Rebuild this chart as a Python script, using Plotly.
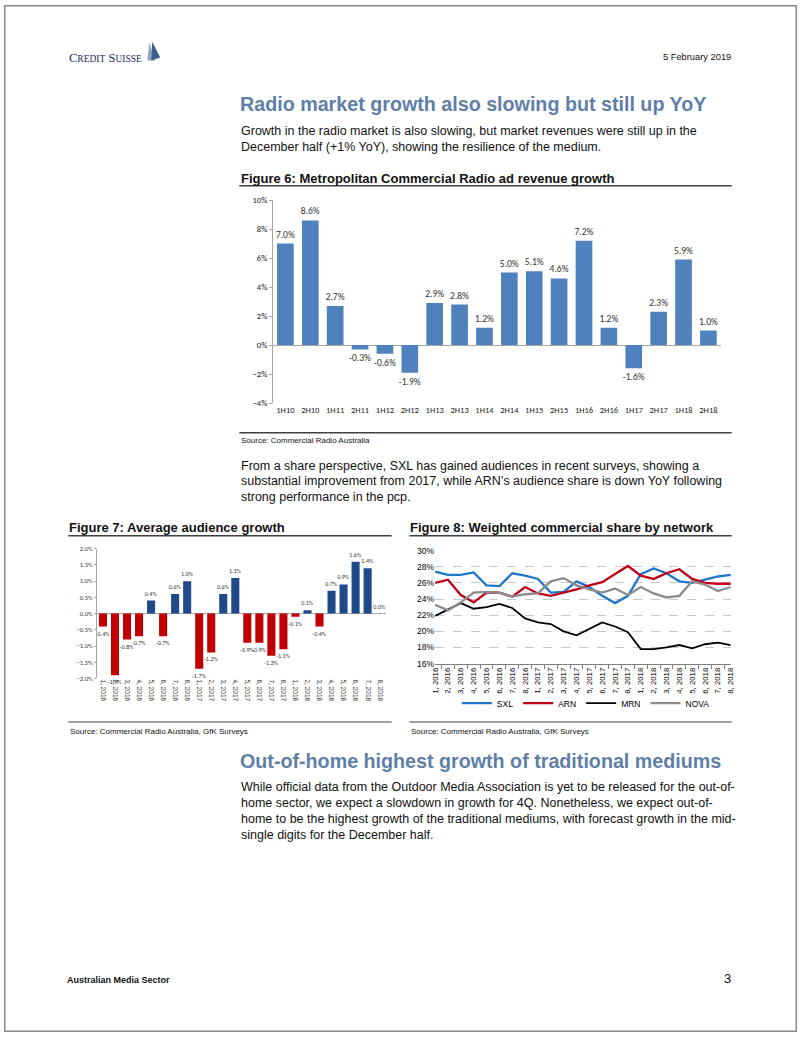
import plotly.graph_objects as go

W, H = 802, 1037
def px(x): return x / W
def py(y): return 1 - y / H

# ---------------- DATA ----------------
halves = ["1H10", "2H10", "1H11", "2H11", "1H12", "2H12", "1H13", "2H13", "1H14",
          "2H14", "1H15", "2H15", "1H16", "2H16", "1H17", "2H17", "1H18", "2H18"]
radio_growth = [7.0, 8.6, 2.7, -0.3, -0.6, -1.9, 2.9, 2.8, 1.2,
                5.0, 5.1, 4.6, 7.2, 1.2, -1.6, 2.3, 5.9, 1.0]

surveys = ["1, 2016", "2, 2016", "3, 2016", "4, 2016", "5, 2016", "6, 2016", "7, 2016", "8, 2016",
           "1, 2017", "2, 2017", "3, 2017", "4, 2017", "5, 2017", "6, 2017", "7, 2017", "8, 2017",
           "1, 2018", "2, 2018", "3, 2018", "4, 2018", "5, 2018", "6, 2018", "7, 2018", "8, 2018"]
audience_growth = [-0.4, -1.9, -0.8, -0.7, 0.4, -0.7, 0.6, 1.0,
                   -1.7, -1.2, 0.6, 1.1, -0.9, -0.9, -1.3, -1.1,
                   -0.1, 0.1, -0.4, 0.7, 0.9, 1.6, 1.4, 0.0]

sxl = [27.4, 27.0, 27.0, 27.3, 25.7, 25.6, 27.2, 26.9, 26.5, 24.8, 24.9, 26.2,
       25.5, 24.4, 23.5, 24.4, 27.1, 27.8, 27.2, 26.2, 26.0, 26.4, 26.8, 27.0]
arn = [26.0, 26.4, 24.5, 23.6, 24.8, 24.8, 24.3, 25.5, 24.7, 24.4, 24.8, 25.2,
       25.7, 26.1, 27.1, 28.1, 26.9, 26.5, 27.2, 27.7, 26.5, 26.0, 25.9, 25.9]
mrn = [21.9, 22.7, 23.5, 22.8, 23.0, 23.4, 22.9, 21.6, 21.1, 20.9, 20.0, 19.5,
       20.3, 21.1, 20.6, 19.9, 17.8, 17.8, 18.0, 18.3, 17.9, 18.4, 18.6, 18.3]
nova = [23.3, 22.6, 23.6, 24.8, 24.9, 24.8, 24.3, 24.6, 24.7, 26.2, 26.6, 25.7,
        25.2, 24.8, 25.3, 24.5, 25.5, 24.7, 24.2, 24.4, 26.2, 25.8, 25.0, 25.5]

series_names = ["SXL", "ARN", "MRN", "NOVA"]
series_vals = [sxl, arn, mrn, nova]
series_colors = ["#1F77C9", "#C00018", "#000000", "#8C8C8C"]

# ---------------- STYLE ----------------
NARROW = "Liberation Sans Narrow, Arial Narrow, Liberation Sans, Arial, sans-serif"
ARIAL = "Liberation Sans, Arial, sans-serif"
CALIBRI = "Carlito, Open Sans, sans-serif"
HEAD_COL = "#5F7FA7"
TXT = "#111111"

fig = go.Figure()

# Figure 6 bars
fig.add_trace(go.Bar(
    x=halves, y=radio_growth, xaxis="x", yaxis="y",
    marker=dict(color="#4F81BD", line=dict(width=0)),
    text=[f"{v:.1f}%" for v in radio_growth], textposition="outside",
    textfont=dict(family=CALIBRI, size=9.5, color="#333333"),
    constraintext="none", cliponaxis=False, showlegend=False, hoverinfo="skip"))

# Figure 7 bars
fig.add_trace(go.Bar(
    x=surveys, y=audience_growth, xaxis="x2", yaxis="y2",
    marker=dict(color=["#C00000" if v < 0 else "#1F4A8A" for v in audience_growth], line=dict(width=0)),
    text=[f"{v:.1f}%" for v in audience_growth], textposition="outside",
    textfont=dict(family=CALIBRI, size=6, color="#333333"),
    constraintext="none", cliponaxis=False, showlegend=False, hoverinfo="skip"))

# Figure 8 lines
for name, vals, col in zip(series_names, series_vals, series_colors):
    fig.add_trace(go.Scatter(
        x=surveys, y=vals, xaxis="x3", yaxis="y3", mode="lines", name=name,
        line=dict(color=col, width=2.3 if name != "MRN" else 1.8), hoverinfo="skip"))

axis_font6 = dict(family=CALIBRI, size=8.5, color="#222222")

fig.update_layout(
    width=W, height=H, margin=dict(l=0, r=0, t=0, b=0),
    paper_bgcolor="white", plot_bgcolor="white",
    bargap=0.33,
    xaxis=dict(domain=[px(272), px(725)], anchor="y", type="category",
               showline=False, ticks="", showgrid=False, zeroline=False,
               tickfont=axis_font6),
    yaxis=dict(domain=[py(402), py(197)], anchor="x", range=[-4, 10], dtick=2,
               ticksuffix="%", showline=True, linecolor="#A6A6A6", linewidth=1,
               ticks="outside", ticklen=3, tickcolor="#A6A6A6", showgrid=False,
               zeroline=True, zerolinecolor="#A6A6A6", zerolinewidth=1,
               tickfont=axis_font6),
    xaxis2=dict(domain=[px(94), px(386)], anchor="y2", type="category",
                showline=False, ticks="", showgrid=False, zeroline=False,
                tickangle=90, tickfont=dict(family=ARIAL, size=6.5, color="#333333")),
    yaxis2=dict(domain=[py(680), py(549)], anchor="x2", range=[-2, 2], dtick=0.5,
                tickformat=".1f", ticksuffix="%", showline=True, linecolor="#A6A6A6",
                ticks="outside", ticklen=2, tickcolor="#A6A6A6", showgrid=False,
                zeroline=True, zerolinecolor="#A6A6A6", zerolinewidth=1,
                tickfont=dict(family=CALIBRI, size=6.5, color="#333333")),
    xaxis3=dict(domain=[px(436), px(735)], anchor="y3", type="category",
                showline=True, linecolor="#7F7F7F", linewidth=1, ticks="outside",
                tickson="boundaries", ticklen=4, tickcolor="#7F7F7F", showgrid=False,
                tickangle=-90, tickfont=dict(family=ARIAL, size=7.8, color="#000000")),
    yaxis3=dict(domain=[py(665), py(551)], anchor="x3", range=[16, 30], dtick=2,
                ticksuffix="%", showline=False, ticks="",
                showgrid=True, gridcolor="#C8C8C8", griddash="dash", gridwidth=1,
                zeroline=False, tickfont=dict(family=ARIAL, size=8.5, color="#000000")),
    legend=dict(orientation="h", x=px(458), y=py(705), xanchor="left", yanchor="middle",
                font=dict(family=ARIAL, size=8.5, color="#000000"), itemwidth=30,
                bgcolor="rgba(0,0,0,0)", tracegroupgap=0),
)

annotations = []
def txt(x, y, s, size, color=TXT, family=NARROW, anchor="left", bold=False):
    if bold:
        s = f"<b>{s}</b>"
    annotations.append(dict(x=px(x), y=py(y), xref="paper", yref="paper", text=s,
                            showarrow=False, xanchor=anchor, yanchor="middle",
                            font=dict(family=family, size=size, color=color)))

# Header
txt(64, 54, "C<span style='font-size:9.5px'>REDIT</span> S<span style='font-size:9.5px'>UISSE</span>",
    12.5, color="#1B2A5A", family="Liberation Serif, DejaVu Serif, serif")
txt(737, 53, "5 February 2019", 9.3, anchor="right")

# Section 1
txt(237, 100, "Radio market growth also slowing but still up YoY", 19.7, color=HEAD_COL, bold=True)
para1 = ["Growth in the radio market is also slowing, but market revenues were still up in the",
         "December half (+1% YoY), showing the resilience of the medium."]
for i, line in enumerate(para1):
    txt(238, 127 + 16 * i, line, 12.5)
txt(238, 175, "Figure 6: Metropolitan Commercial Radio ad revenue growth", 13, bold=True)
txt(238, 440, "Source: Commercial Radio Australia", 8)

para2 = ["From a share perspective, SXL has gained audiences in recent surveys, showing a",
         "substantial improvement from 2017, while ARN\u2019s audience share is down YoY following",
         "strong performance in the pcp."]
for i, line in enumerate(para2):
    txt(238, 465 + 16 * i, line, 12.5)

txt(64, 528, "Figure 7: Average audience growth", 13, bold=True)
txt(409, 528, "Figure 8: Weighted commercial share by network", 13, bold=True)
txt(65, 734, "Source: Commercial Radio Australia, GfK Surveys", 8)
txt(410, 734, "Source: Commercial Radio Australia, GfK Surveys", 8)

txt(237, 763, "Out-of-home highest growth of traditional mediums", 19.7, color=HEAD_COL, bold=True)
para3 = ["While official data from the Outdoor Media Association is yet to be released for the out-of-",
         "home sector, we expect a slowdown in growth for 4Q. Nonetheless, we expect out-of-",
         "home to be the highest growth of the traditional mediums, with forecast growth in the mid-",
         "single digits for the December half."]
for i, line in enumerate(para3):
    txt(238, 790 + 16 * i, line, 12.5)

txt(62, 984, "Australian Media Sector", 9, bold=True)
txt(737, 983, "3", 13, anchor="right")

shapes = []
def hline(x0, x1, y, color="#404040", width=1.5):
    shapes.append(dict(type="line", xref="paper", yref="paper", x0=px(x0), x1=px(x1),
                       y0=py(y), y1=py(y), line=dict(color=color, width=width)))

hline(238, 736, 182.5)
hline(238, 736, 432)
hline(65, 392, 536)
hline(410, 736, 536)
hline(65, 392, 724, color="#808080")
hline(410, 736, 724, color="#808080")

# page border
shapes.append(dict(type="rect", xref="paper", yref="paper", x0=px(0.75), x1=px(801.25),
                   y0=py(1036.25), y1=py(0.75), line=dict(color="#8A8A8A", width=1.5)))

# logo sail
def pth(points):
    return "M " + " L ".join(f"{px(a):.5f},{py(b):.5f}" for a, b in points) + " Z"
shapes.append(dict(type="path", xref="paper", yref="paper",
                   path=pth([(145, 56), (147, 38), (153, 56)]),
                   fillcolor="#8FA3C4", line=dict(width=0)))
shapes.append(dict(type="path", xref="paper", yref="paper",
                   path=pth([(149, 56), (150, 37), (158, 53)]),
                   fillcolor="#3E5C8F", line=dict(width=0)))

fig.update_layout(annotations=annotations, shapes=shapes)
fig.write_html(
    "out.html",
    config={"displayModeBar": False, "staticPlot": True},
    post_script=(
        "document.documentElement.style.margin='0';document.documentElement.style.padding='0';"
        "document.body.style.margin='0';document.body.style.padding='0';"
        "document.body.style.overflow='hidden';"
        "var gd=document.getElementById('{plot_id}');"
        "gd.style.position='absolute';gd.style.left='0px';gd.style.top='0px';"
    ),
)
